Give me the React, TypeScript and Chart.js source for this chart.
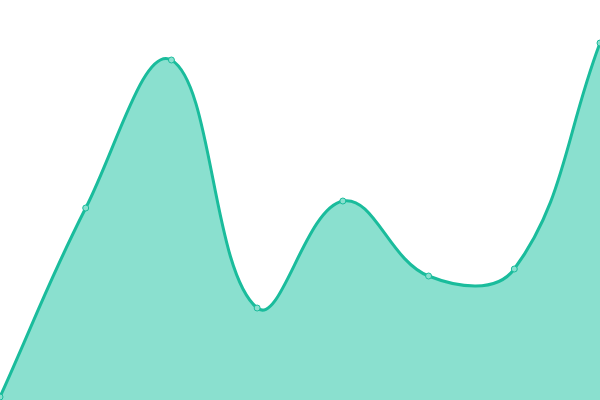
import React, { useEffect, useRef } from 'react';
import { Chart, registerables } from 'chart.js';

Chart.register(...registerables);

const labels = ['1', '2', '3', '4', '5', '6', '7', '8'];
const values = [3, 192, 340, 92, 199, 124, 131, 357];

export default function App() {
  const chartRef = useRef<HTMLCanvasElement | null>(null);

  useEffect(() => {
    if (!chartRef.current) return;
    const myChart = new Chart(chartRef.current, {
      type: 'line',
      data: {
        labels: labels,
        datasets: [{
          data: values,
          borderColor: '#1abc9c',
          backgroundColor: '#8ae0cf',
          borderWidth: 3,
          fill: true,
          tension: 0.4,
          pointRadius: 3,
          pointBorderWidth: 1,
          pointBackgroundColor: '#8ae0cf',
          pointBorderColor: '#1abc9c',
        }]
      },
      options: {
        responsive: false,
        animation: false,
        layout: { padding: 0, autoPadding: false },
        plugins: {
          legend: { display: false },
          title: { display: false },
          tooltip: { enabled: false },
        },
        scales: {
          x: { display: false, offset: false },
          y: { display: false, min: 0, max: 400 },
        },
      },
    });

    return () => {
      myChart.destroy();
    };
  }, []);

  return (
    <div style={{ position: 'absolute', left: 0, top: 0, width: 600, height: 400 }}>
      <canvas ref={chartRef} width={600} height={400}></canvas>
    </div>
  );
}
